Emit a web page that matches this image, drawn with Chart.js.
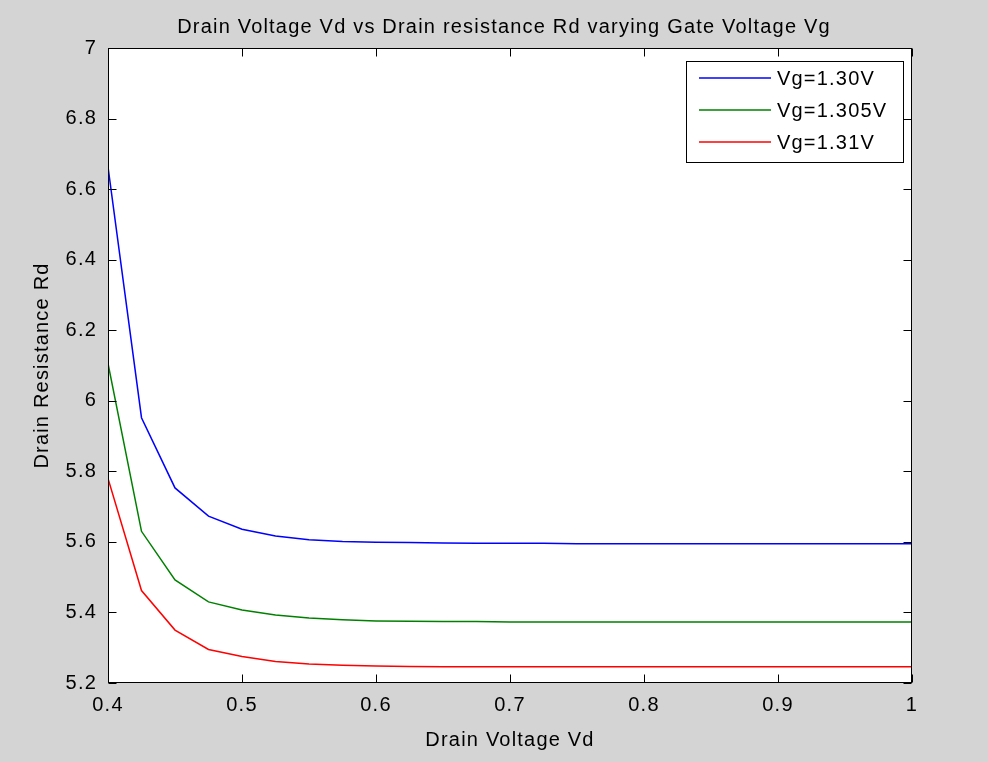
<!DOCTYPE html>
<html>
<head>
<meta charset="utf-8">
<script src="https://cdn.jsdelivr.net/npm/chart.js@4"></script>
<style>
body{margin:0;background:#d4d4d4;}
canvas{display:block;}
</style>
</head>
<body>
<canvas id="grafica" width="988" height="762"></canvas>
<script>
// datos
var VD=[0.4,0.425,0.45,0.475,0.5,0.525,0.55,0.575,0.6,0.625,0.65,0.675,0.7,0.725,0.75,0.775,0.8,0.825,0.85,0.875,0.9,0.925,0.95,0.975,1];
var RD_130=[6.663,5.952,5.753,5.673,5.636,5.617,5.606,5.601,5.599,5.598,5.597,5.596,5.596,5.596,5.595,5.595,5.595,5.595,5.595,5.595,5.595,5.595,5.595,5.595,5.595];
var RD_1305=[6.106,5.630,5.492,5.430,5.407,5.393,5.384,5.379,5.376,5.375,5.374,5.374,5.373,5.373,5.373,5.373,5.373,5.373,5.373,5.373,5.373,5.373,5.373,5.373,5.373];
var RD_131=[5.780,5.462,5.350,5.295,5.275,5.261,5.254,5.250,5.248,5.247,5.246,5.246,5.246,5.246,5.246,5.246,5.246,5.246,5.246,5.246,5.246,5.246,5.246,5.246,5.246];
var ETIQUETAS=['Vg=1.30V','Vg=1.305V','Vg=1.31V'];
var COLORES=['#0000ff','#008000','#ff0000'];
var TITULO='Drain Voltage Vd vs Drain resistance Rd varying Gate Voltage Vg';
var X_TICKS=[0.4,0.5,0.6,0.7,0.8,0.9,1];
var Y_TICKS=[5.2,5.4,5.6,5.8,6,6.2,6.4,6.6,6.8,7];

var FUENTE='"Liberation Sans", Arial, sans-serif';
var ESPACIADO='1.2px';

function puntos(serie){
	var arr=new Array();
	for (i = 0; i < VD.length; i++){
		arr.push({x:VD[i],y:serie[i]});
	}
	return arr;
}

var DATA_SETS=new Array();
var series=[RD_130,RD_1305,RD_131];
for (var k = 0; k < series.length; k++){
	var DATASET=new Object();
	DATASET.label=ETIQUETAS[k];
	DATASET.data=puntos(series[k]);
	DATASET.borderColor=COLORES[k];
	DATASET.backgroundColor=COLORES[k];
	DATASET.borderWidth=1.5;
	DATASET.pointRadius=0;
	DATASET.tension=0;
	DATA_SETS.push(DATASET);
}

// marco, ticks interiores, titulo y leyenda estilo matlab
var marcoMatlab={
	id:'marcoMatlab',
	beforeLayout:function(chart){
		chart.ctx.letterSpacing=ESPACIADO;
	},
	beforeDraw:function(chart){
		var ctx=chart.ctx;
		ctx.letterSpacing=ESPACIADO;
		ctx.save();
		ctx.fillStyle='#d4d4d4';
		ctx.fillRect(0,0,chart.width,chart.height);
		var a=chart.chartArea;
		ctx.fillStyle='#ffffff';
		ctx.fillRect(a.left,a.top,a.right-a.left,a.bottom-a.top);
		ctx.restore();
	},
	afterDatasetsDraw:function(chart){
		var ctx=chart.ctx;
		var a=chart.chartArea;
		var sx=chart.scales.x, sy=chart.scales.y;
		ctx.save();
		ctx.strokeStyle='#000000';
		ctx.lineWidth=1;
		var L=Math.round(a.left)+0.5, R=Math.round(a.right)-0.5, T=Math.round(a.top)+0.5, B=Math.round(a.bottom)-0.5;
		ctx.beginPath();
		for (var i = 0; i < X_TICKS.length; i++){
			var px=Math.round(sx.getPixelForValue(X_TICKS[i]))+0.5;
			ctx.moveTo(px,B);ctx.lineTo(px,B-8);
			ctx.moveTo(px,T);ctx.lineTo(px,T+8);
		}
		for (var j = 0; j < Y_TICKS.length; j++){
			var py=Math.round(sy.getPixelForValue(Y_TICKS[j]))+0.5;
			ctx.moveTo(L,py);ctx.lineTo(L+8,py);
			ctx.moveTo(R,py);ctx.lineTo(R-8,py);
		}
		ctx.stroke();
		ctx.strokeRect(L,T,R-L,B-T);

		// leyenda
		var lx=686.5, ly=61.5, lw=217, lh=101;
		ctx.fillStyle='#ffffff';
		ctx.fillRect(lx,ly,lw,lh);
		ctx.strokeRect(lx,ly,lw,lh);
		ctx.font='20px '+FUENTE;
		ctx.letterSpacing=ESPACIADO;
		ctx.textBaseline='middle';
		ctx.textAlign='left';
		for (var n = 0; n < chart.data.datasets.length; n++){
			var yy=78+n*32;
			ctx.strokeStyle=chart.data.datasets[n].borderColor;
			ctx.lineWidth=1.5;
			ctx.beginPath();
			ctx.moveTo(699,yy);ctx.lineTo(771,yy);
			ctx.stroke();
			ctx.fillStyle='#000000';
			ctx.fillText(chart.data.datasets[n].label,777,yy+1);
		}

		// titulo
		ctx.fillStyle='#000000';
		ctx.textAlign='center';
		ctx.textBaseline='middle';
		ctx.fillText(TITULO,(a.left+a.right)/2-6,27);
		ctx.restore();
	}
};

var config={
	type:'line',
	data:{datasets:DATA_SETS},
	options:{
		responsive:false,
		animation:false,
		layout:{padding:{top:48,right:76,bottom:0,left:0}},
		plugins:{
			legend:{display:false},
			title:{display:false},
			tooltip:{enabled:false}
		},
		scales:{
			x:{
				type:'linear',
				min:0.4,max:1,
				afterBuildTicks:function(scale){scale.ticks=X_TICKS.map(function(v){return {value:v};});},
				afterFit:function(scale){scale.height=79;},
				grid:{display:false,drawTicks:false},
				border:{display:false},
				ticks:{color:'#000',padding:10,maxRotation:0,font:{family:FUENTE,size:20},callback:function(v){return String(Math.round(v*10)/10);}},
				title:{display:true,text:'Drain Voltage Vd',color:'#000',font:{family:FUENTE,size:20},padding:{top:0,bottom:10}}
			},
			y:{
				min:5.2,max:7,
				afterBuildTicks:function(scale){scale.ticks=Y_TICKS.map(function(v){return {value:v};});},
				afterFit:function(scale){scale.width=108;},
				grid:{display:false,drawTicks:false},
				border:{display:false},
				ticks:{color:'#000',padding:11,font:{family:FUENTE,size:20},callback:function(v){return String(Math.round(v*10)/10);}},
				title:{display:true,text:'Drain Resistance Rd',color:'#000',font:{family:FUENTE,size:20},padding:{top:30,bottom:0}}
			}
		}
	},
	plugins:[marcoMatlab]
};

var canvas=document.getElementById('grafica').getContext('2d');
new Chart(canvas,config);
</script>
</body>
</html>
